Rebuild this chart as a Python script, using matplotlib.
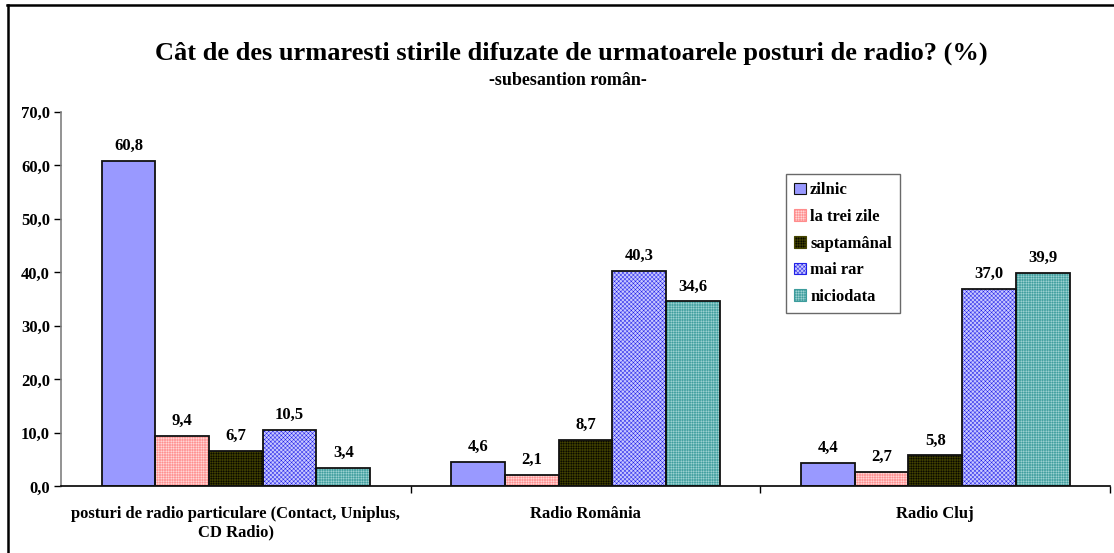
import numpy as np
import matplotlib
matplotlib.use("Agg")
import matplotlib.pyplot as plt
from matplotlib.patches import Patch
from matplotlib.lines import Line2D

# ---------------- data ----------------
categories = ["posturi de radio particulare (Contact, Uniplus,\nCD Radio)",
              "Radio România", "Radio Cluj"]
series_names = ["zilnic", "la trei zile", "saptamânal", "mai rar", "niciodata"]
zilnic = [60.8, 4.6, 4.4]
trei_zile = [9.4, 2.1, 2.7]
saptamanal = [6.7, 8.7, 5.8]
mai_rar = [10.5, 40.3, 37.0]
niciodata = [3.4, 34.6, 39.9]
yticks = [0, 10, 20, 30, 40, 50, 60, 70]

# ---------------- style ----------------
plt.rcParams.update({
    "font.family": ["Liberation Serif", "DejaVu Serif"],
    "font.weight": "bold",
    "hatch.linewidth": 0.35,
})

# face, hatch, hatch colour per series (fine textures like the old Excel fills)
styles = [
    ("#9999FF", None, None),
    ("#FFE2E2", "+" * 10, "#FF8C8C"),
    ("#000000", "+" * 10, "#464600"),
    ("#C8C8FF", "x" * 8, "#2020E8"),
    ("#ACDADA", "+" * 10, "#3C9C9C"),
]

fig = plt.figure(figsize=(11.14, 5.53), dpi=100)
ax = fig.add_axes([0.0548, 0.1203, 0.9416, 0.6772])

values = [zilnic, trei_zile, saptamanal, mai_rar, niciodata]
x = np.arange(len(categories))
w = 0.1537

for i, (vals, (fc, hatch, hc)) in enumerate(zip(values, styles)):
    pos = x + (i - 2) * w
    if hatch:
        ax.bar(pos, vals, w, color=fc, hatch=hatch, edgecolor=hc,
               linewidth=0, zorder=2)
    else:
        ax.bar(pos, vals, w, color=fc, linewidth=0, zorder=2)
    ax.bar(pos, vals, w, fill=False, edgecolor="#111111",
           linewidth=1.3, zorder=3)
    for xp, v in zip(pos, vals):
        ax.annotate(f"{v:.1f}".replace(".", ","), (xp, v),
                    xytext=(0, 5), textcoords="offset points",
                    ha="center", va="bottom", fontsize=12,
                    fontweight="bold")

ax.set_xlim(-0.5, 2.5)
ax.set_ylim(0, 70)
ax.set_yticks(yticks)
ax.set_yticklabels([f"{t:.1f}".replace(".", ",") for t in yticks],
                   fontsize=12, fontweight="bold")
ax.set_xticks([0.5, 1.5, 2.5])
ax.set_xticklabels([])
ax.tick_params(axis="x", direction="out", length=5, width=1)
ax.tick_params(axis="y", direction="out", length=5, width=1, pad=3)

for i, c in enumerate(categories):
    ax.text(i, -3.6, c, ha="center", va="top", fontsize=12,
            fontweight="bold", linespacing=1.25)

ax.spines["top"].set_visible(False)
ax.spines["right"].set_visible(False)
ax.spines["left"].set_color("#808080")
ax.spines["left"].set_linewidth(1.2)
ax.spines["bottom"].set_linewidth(1.2)

# ---------------- titles ----------------
fig.text(0.513, 0.904,
         "Cât de des urmaresti stirile difuzate de urmatoarele posturi de radio? (%)",
         ha="center", va="center", fontsize=19, fontweight="bold")
fig.text(0.51, 0.855, "-subesantion român-", ha="center", va="center",
         fontsize=13, fontweight="bold")

# ---------------- legend ----------------
handles = []
for name, (fc, hatch, hc) in zip(series_names, styles):
    handles.append(Patch(facecolor=fc, hatch=hatch,
                         edgecolor=hc if hatch else "#111111",
                         linewidth=0.8, label=name))
leg = fig.legend(handles=handles, loc="upper left",
                 bbox_to_anchor=(786 / 1114, 1 - 174 / 553),
                 frameon=True, fancybox=False, edgecolor="#444444",
                 fontsize=12, handlelength=0.7, handleheight=0.7,
                 handletextpad=0.25, labelspacing=0.64, borderpad=0.5,
                 borderaxespad=0)
leg.get_frame().set_linewidth(1.0)

# ---------------- outer frame ----------------
fig.add_artist(Line2D([8 / 1114, 8 / 1114], [0, 1 - 5 / 553],
                      transform=fig.transFigure, color="black", lw=1.8))
fig.add_artist(Line2D([7 / 1114, 1], [1 - 5 / 553, 1 - 5 / 553],
                      transform=fig.transFigure, color="black", lw=1.8))

fig.savefig("out.png", dpi=100, facecolor="white")
